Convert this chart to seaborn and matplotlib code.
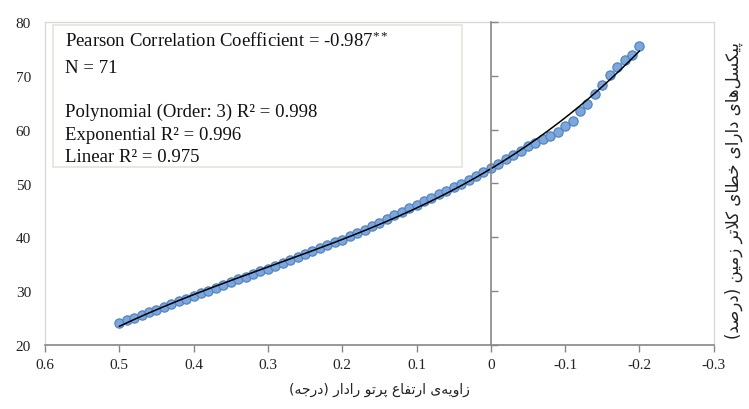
import numpy as np
import pandas as pd
import seaborn as sns
import matplotlib.pyplot as plt
from matplotlib.patches import Rectangle
from matplotlib.ticker import FuncFormatter

# radar beam elevation angle (deg) and ground clutter pixels (%)
angle = [0.50, 0.49, 0.48, 0.47, 0.46, 0.45, 0.44, 0.43, 0.42, 0.41,
         0.40, 0.39, 0.38, 0.37, 0.36, 0.35, 0.34, 0.33, 0.32, 0.31,
         0.30, 0.29, 0.28, 0.27, 0.26, 0.25, 0.24, 0.23, 0.22, 0.21,
         0.20, 0.19, 0.18, 0.17, 0.16, 0.15, 0.14, 0.13, 0.12, 0.11,
         0.10, 0.09, 0.08, 0.07, 0.06, 0.05, 0.04, 0.03, 0.02, 0.01,
         0.00, -0.01, -0.02, -0.03, -0.04, -0.05, -0.06, -0.07, -0.08, -0.09,
         -0.10, -0.11, -0.12, -0.13, -0.14, -0.15, -0.16, -0.17, -0.18, -0.19,
         -0.20]
clutter = [24.1, 24.6, 25.1, 25.6, 26.1, 26.6, 27.1, 27.6, 28.1, 28.6,
           29.1, 29.6, 30.1, 30.6, 31.1, 31.7, 32.2, 32.7, 33.2, 33.7,
           34.2, 34.7, 35.3, 35.8, 36.3, 36.9, 37.4, 38.0, 38.5, 39.1,
           39.6, 40.2, 40.8, 41.45, 42.1, 42.75, 43.4, 44.1, 44.8, 45.4,
           46.1, 46.75, 47.4, 48.0, 48.7, 49.3, 50.0, 50.7, 51.4, 52.1,
           52.8, 53.7, 54.5, 55.3, 56.1, 56.9, 57.5, 58.3, 58.9, 59.6,
           60.6, 61.6, 63.4, 64.8, 66.6, 68.3, 70.2, 71.6, 72.9, 73.9,
           75.6]

xticks = [0.6, 0.5, 0.4, 0.3, 0.2, 0.1, 0.0, -0.1, -0.2, -0.3]
yticks = [20, 30, 40, 50, 60, 70, 80]

stats_lines = ["Pearson Correlation Coefficient = -0.987$^{**}$",
               "N = 71",
               "Polynomial (Order: 3) R² = 0.998",
               "Exponential R² = 0.996",
               "Linear R² = 0.975"]
xlabel_fa = "زاویه\u200cی ارتفاع پرتو رادار (درجه)"
ylabel_fa = "پیکسل\u200cهای دارای خطای کلاتر زمین (درصد)"

# small persian shaper (no raqm in matplotlib): isolated, final, initial, medial
FORMS = {
    'ا': ('\uFE8D', '\uFE8E', None, None),
    'د': ('\uFEA9', '\uFEAA', None, None),
    'ر': ('\uFEAD', '\uFEAE', None, None),
    'ز': ('\uFEAF', '\uFEB0', None, None),
    'و': ('\uFEED', '\uFEEE', None, None),
    'پ': ('\uFB56', '\uFB57', '\uFB58', '\uFB59'),
    'ت': ('\uFE95', '\uFE96', '\uFE97', '\uFE98'),
    'ج': ('\uFE9D', '\uFE9E', '\uFE9F', '\uFEA0'),
    'خ': ('\uFEA5', '\uFEA6', '\uFEA7', '\uFEA8'),
    'س': ('\uFEB1', '\uFEB2', '\uFEB3', '\uFEB4'),
    'ص': ('\uFEB9', '\uFEBA', '\uFEBB', '\uFEBC'),
    'ط': ('\uFEC1', '\uFEC2', '\uFEC3', '\uFEC4'),
    'ع': ('\uFEC9', '\uFECA', '\uFECB', '\uFECC'),
    'ف': ('\uFED1', '\uFED2', '\uFED3', '\uFED4'),
    'ک': ('\uFB8E', '\uFB8F', '\uFB90', '\uFB91'),
    'ل': ('\uFEDD', '\uFEDE', '\uFEDF', '\uFEE0'),
    'م': ('\uFEE1', '\uFEE2', '\uFEE3', '\uFEE4'),
    'ن': ('\uFEE5', '\uFEE6', '\uFEE7', '\uFEE8'),
    'ه': ('\uFEE9', '\uFEEA', '\uFEEB', '\uFEEC'),
    'ی': ('\uFBFC', '\uFBFD', '\uFBFE', '\uFBFF'),
}


def joins_next(c):
    return c in FORMS and FORMS[c][2] is not None


def shape_fa(text):
    out = []
    i = 0
    while i < len(text):
        c = text[i]
        if c == '\u200c':
            i += 1
            continue
        if c not in FORMS:
            out.append(c)
            i += 1
            continue
        prev = text[i - 1] if i > 0 else ''
        nxt = text[i + 1] if i + 1 < len(text) else ''
        link_prev = joins_next(prev)
        if c == 'ل' and nxt == 'ا':
            out.append('\uFEFC' if link_prev else '\uFEFB')
            i += 2
            continue
        link_next = joins_next(c) and nxt in FORMS
        iso, fin, ini, med = FORMS[c]
        if link_prev and link_next:
            out.append(med)
        elif link_prev:
            out.append(fin)
        elif link_next:
            out.append(ini)
        else:
            out.append(iso)
        i += 1
    vis = ''.join(reversed(out))
    return vis.translate(str.maketrans('()', ')('))


sns.set_style('white')
plt.rcParams['font.family'] = ['Liberation Serif', 'DejaVu Sans']
plt.rcParams['mathtext.fontset'] = 'custom'
plt.rcParams['mathtext.rm'] = 'Liberation Serif'
plt.rcParams['mathtext.it'] = 'Liberation Serif:italic'
plt.rcParams['axes.unicode_minus'] = False

df = pd.DataFrame({'angle': angle, 'clutter': clutter})
coef = np.polyfit(df['angle'], df['clutter'], 3)
fit_x = np.linspace(df['angle'].max(), df['angle'].min(), 200)
fit = pd.DataFrame({'angle': fit_x, 'clutter': np.polyval(coef, fit_x)})

fig = plt.figure(figsize=(7.49, 4.10), dpi=100)
ax = fig.add_axes([0.060, 0.156, 0.893, 0.788])

sns.scatterplot(data=df, x='angle', y='clutter', ax=ax, s=44,
                color='#7ca7dd', edgecolor='#5284c2', linewidth=0.9, zorder=3)
sns.lineplot(data=fit, x='angle', y='clutter', ax=ax, color='black',
             linewidth=1.1, zorder=4, sort=False)

ax.set_xlim(0.6, -0.3)
ax.set_ylim(20, 80)
ax.set_xticks(xticks)
ax.set_yticks(yticks)
ax.xaxis.set_major_formatter(FuncFormatter(lambda v, p: '{:g}'.format(round(v, 2))))
ax.tick_params(axis='x', direction='out', length=5, width=1, color='#868686',
               labelsize=11, labelcolor='#222222', pad=4, bottom=True)
ax.tick_params(axis='y', length=0, labelsize=11, labelcolor='#222222', pad=10)
for side in ['left', 'top', 'right']:
    ax.spines[side].set_color('#d9d9d9')
    ax.spines[side].set_linewidth(1)
ax.spines['bottom'].set_color('#868686')
ax.spines['bottom'].set_linewidth(1.2)

# vertical axis crossing at zero
ax0 = ax.twinx()
ax0.set_ylim(20, 80)
ax0.set_yticks(yticks)
ax0.spines['right'].set_position(('data', 0))
ax0.spines['right'].set_color('#868686')
ax0.spines['right'].set_linewidth(1.2)
for side in ['left', 'top', 'bottom']:
    ax0.spines[side].set_visible(False)
ax0.tick_params(axis='y', direction='out', length=5, width=1, color='#868686',
                labelright=False)

ax.set_xlabel(shape_fa(xlabel_fa), family='DejaVu Sans', fontsize=10,
              color='#222222', labelpad=8)
ax.set_ylabel('')
ax.text(1.03, 0.48, shape_fa(ylabel_fa), transform=ax.transAxes, rotation=90,
        ha='center', va='center', family='DejaVu Sans', fontsize=12,
        color='#222222')

ax.add_patch(Rectangle((0.012, 0.551), 0.611, 0.44, transform=ax.transAxes,
                       facecolor='white', edgecolor='#e6e4d8', linewidth=1.2,
                       zorder=5))
ys = [0.925, 0.844, 0.708, 0.638, 0.571]
for txt, yy in zip(stats_lines, ys):
    ax.text(0.030, yy, txt, transform=ax.transAxes, ha='left', va='baseline',
            fontsize=13.5, color='#111111', zorder=6)

fig.savefig('out.png', dpi=100)
